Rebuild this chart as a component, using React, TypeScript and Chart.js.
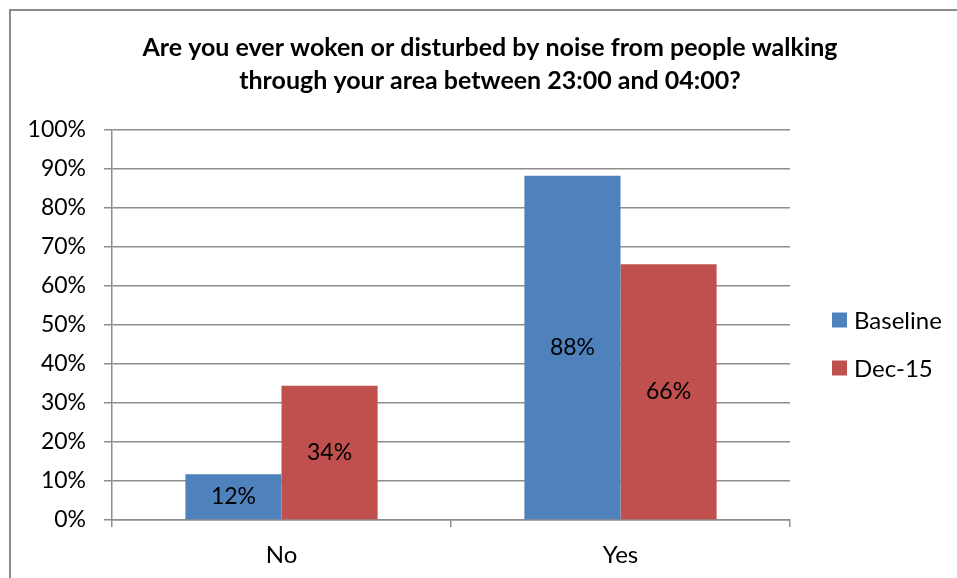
import React, { useEffect, useRef } from "react";
import { Chart, registerables } from "chart.js";

Chart.register(...registerables);

const TITLE_LINES = [
  "Are you ever woken or disturbed by noise from people walking",
  "through your area between 23:00 and 04:00?",
];
const CATEGORIES = ["No", "Yes"];
const SERIES_NAMES = ["Baseline", "Dec-15"];
const BASELINE = [11.7, 88.3];
const DEC15 = [34.4, 65.6];
const COLORS = ["#4F81BD", "#C0504D"];
const Y_MAX = 100;
const Y_STEP = 10;

const FONT = "Lato, 'Open Sans', sans-serif";
const GRID = "#8e8e8e";

const valueLabels = {
  id: "valueLabels",
  afterDatasetsDraw(chart: any) {
    const ctx = chart.ctx;
    ctx.save();
    ctx.font = `23px ${FONT}`;
    ctx.fillStyle = "#000";
    ctx.textAlign = "center";
    ctx.textBaseline = "middle";
    chart.data.datasets.forEach((ds: any, i: number) => {
      const meta = chart.getDatasetMeta(i);
      meta.data.forEach((bar: any, j: number) => {
        const v = ds.data[j];
        const y = (bar.y + bar.base) / 2;
        ctx.fillText(`${Math.round(v)}%`, bar.x, y);
      });
    });
    ctx.restore();
  },
};

const customLegend = {
  id: "customLegend",
  afterDraw(chart: any) {
    const ctx = chart.ctx;
    const area = chart.chartArea;
    ctx.save();
    ctx.font = `24px ${FONT}`;
    ctx.textBaseline = "middle";
    ctx.textAlign = "left";
    const x0 = area.right + 42;
    const yc = (area.top + area.bottom) / 2;
    const ys = [yc - 5, yc + 43];
    chart.data.datasets.forEach((ds: any, i: number) => {
      const y = ys[i];
      ctx.fillStyle = ds.backgroundColor;
      ctx.fillRect(x0, y - 7.5, 15, 15);
      ctx.fillStyle = "#000";
      ctx.fillText(ds.label, x0 + 22, y + 1);
    });
    ctx.restore();
  },
};

export default function App() {
  const ref = useRef<HTMLCanvasElement>(null);
  useEffect(() => {
    if (!ref.current) return;
    const chart = new Chart(ref.current, {
      type: "bar",
      data: {
        labels: CATEGORIES,
        datasets: [
          {
            label: SERIES_NAMES[0],
            data: BASELINE,
            backgroundColor: COLORS[0],
            categoryPercentage: 0.567,
            barPercentage: 1,
          },
          {
            label: SERIES_NAMES[1],
            data: DEC15,
            backgroundColor: COLORS[1],
            categoryPercentage: 0.567,
            barPercentage: 1,
          },
        ],
      },
      options: {
        responsive: false,
        animation: false,
        layout: { padding: { left: 0, right: 0, top: 0, bottom: 0 } },
        plugins: {
          legend: { display: false },
          tooltip: { enabled: false },
          title: {
            display: true,
            text: TITLE_LINES,
            color: "#000",
            font: { family: FONT, size: 25, weight: "bold", lineHeight: "33px" },
            padding: { top: 31, bottom: 33 },
          },
        },
        scales: {
          x: {
            grid: {
              offset: true,
              drawOnChartArea: false,
              drawTicks: true,
              tickLength: 7,
              color: GRID,
              lineWidth: 1.5,
            },
            border: { color: GRID, width: 1.5 },
            ticks: {
              color: "#000",
              font: { family: FONT, size: 24 },
              padding: 14,
            },
            afterFit(scale: any) {
              scale.height = 80;
            },
          },
          y: {
            min: 0,
            max: Y_MAX,
            ticks: {
              stepSize: Y_STEP,
              color: "#000",
              font: { family: FONT, size: 23 },
              padding: 18,
              callback: (v: any) => `${v}%`,
            },
            grid: { color: GRID, tickLength: 8, lineWidth: 1.5 },
            border: { color: GRID, width: 1.5 },
            afterFit(scale: any) {
              scale.width = 112;
            },
          },
          spacer: {
            type: "linear",
            position: "right",
            display: true,
            grid: { display: false, drawOnChartArea: false },
            border: { display: false },
            ticks: { display: false },
            afterFit(scale: any) {
              scale.width = 190;
            },
          },
        },
      },
      plugins: [valueLabels, customLegend],
    });
    return () => chart.destroy();
  }, []);

  return (
    <div
      style={{
        position: "fixed",
        left: 0,
        top: 0,
        width: 957,
        height: 578,
        overflow: "hidden",
        background: "#fff",
      }}
    >
      <div
        style={{
          position: "absolute",
          left: 9,
          top: 9,
          width: 980,
          height: 620,
          border: "2px solid #8a8a8a",
          boxSizing: "border-box",
        }}
      />
      <canvas
        ref={ref}
        width={980}
        height={600}
        style={{ position: "absolute", left: 0, top: 0, width: 980, height: 600 }}
      />
    </div>
  );
}
